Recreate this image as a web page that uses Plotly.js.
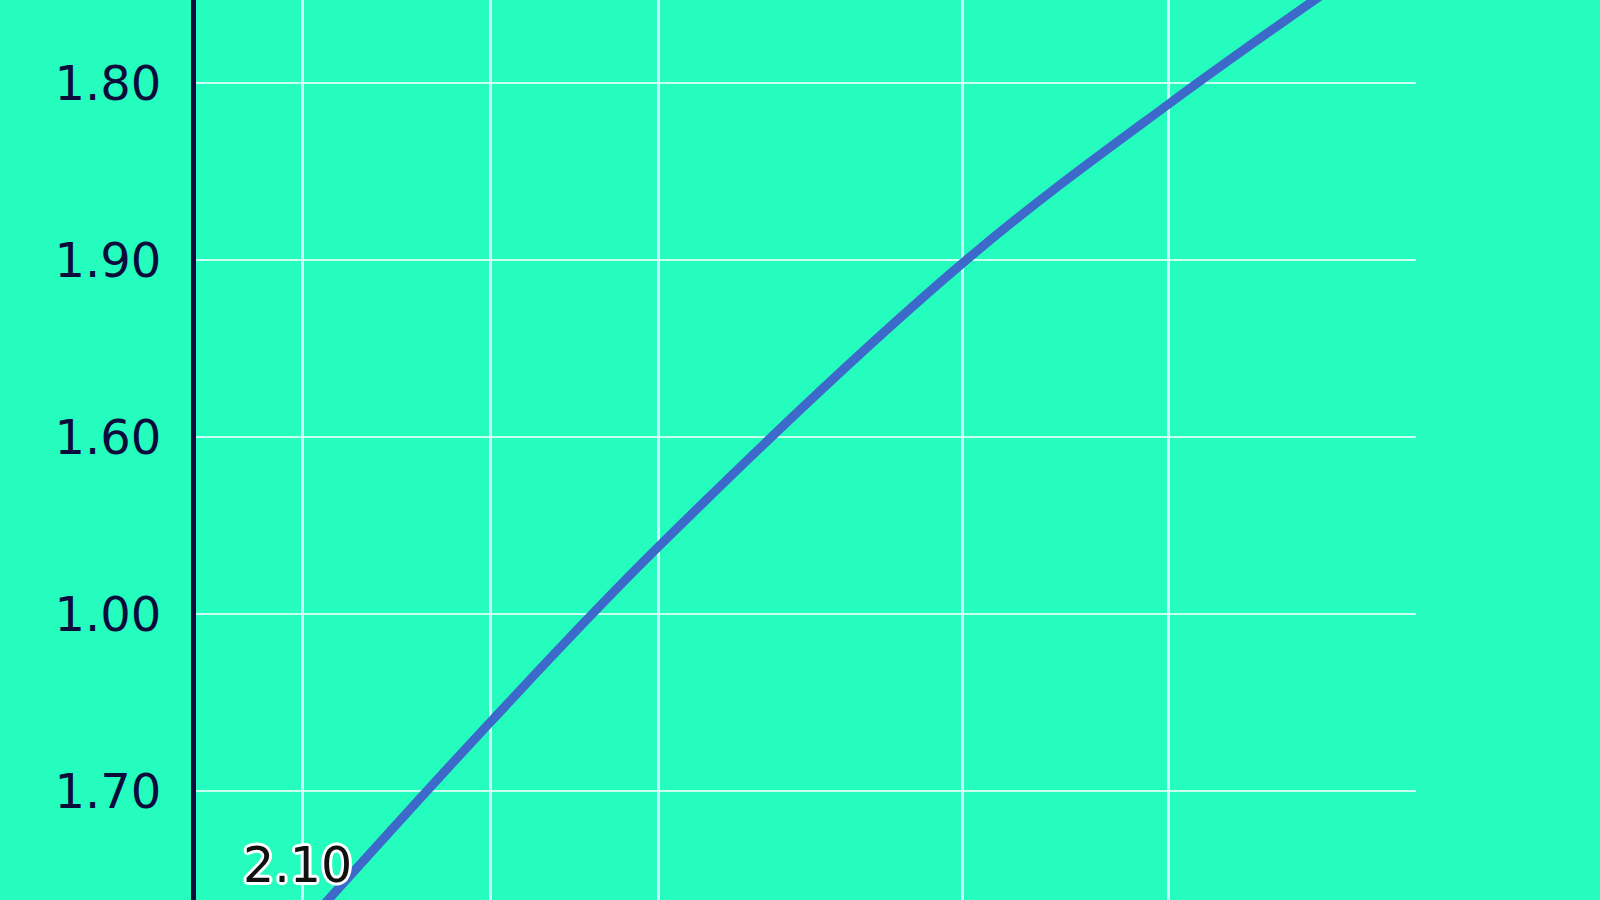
<!DOCTYPE html>
<html>
<head>
<meta charset="utf-8">
<script src="https://cdn.plot.ly/plotly-3.0.1.min.js"></script>
<style>
  html, body { margin: 0; padding: 0; overflow: hidden; background: #24fdbd; }
  #chart { width: 1600px; height: 1000px; }
</style>
</head>
<body>
<div id="chart"></div>
<script>
// x positions of the points (same as the vertical grid lines)
const xValues = [8.76, 24.14, 37.89, 62.85, 79.71, 99.92];
// y values on the index scale used by the tick labels
const yValues = [-0.774, 0.390, 1.379, 2.983, 3.880, 4.864];
// y tick positions and their (odd) labels, bottom to top
const yTickVals = [0, 1, 2, 3, 4];
const yTickText = ["1.70", "1.00", "1.60", "1.90", "1.80"];
const firstLabel = "2.10";

const bg = "#24fdbd";
const ink = "#0c0c3c";
const grid = "rgba(230,255,248,0.85)";

var data = [{
  x: xValues,
  y: yValues,
  type: "scatter",
  mode: "lines",
  line: { color: "#3d69cb", width: 9, shape: "spline", smoothing: 1 },
  hoverinfo: "skip",
}];

var layout = {
  width: 1600,
  height: 1000,
  margin: { t: 0, b: 0, l: 196, r: 184 },
  paper_bgcolor: bg,
  plot_bgcolor: bg,
  showlegend: false,
  font: { family: "DejaVu Sans", color: ink },
  xaxis: {
    range: [0, 100],
    tickmode: "array",
    tickvals: xValues,
    showticklabels: false,
    ticks: "",
    showgrid: true,
    gridcolor: grid,
    gridwidth: 2.8,
    zeroline: false,
    showline: false,
  },
  yaxis: {
    range: [-1.181, 4.469],
    tickmode: "array",
    tickvals: yTickVals,
    ticktext: yTickText,
    ticks: "",
    ticklabelstandoff: 20,
    tickfont: { size: 48, color: ink },
    showgrid: true,
    gridcolor: grid,
    gridwidth: 2.8,
    zeroline: false,
    showline: true,
    linecolor: ink,
    linewidth: 5,
  },
  annotations: [{
    x: xValues[0],
    y: yValues[0],
    text: firstLabel,
    showarrow: false,
    xanchor: "center",
    yanchor: "middle",
    xshift: -5,
    yshift: 62,
    font: {
      size: 49,
      color: "#111111",
      shadow: "2px 2px 0 #fff, -2px -2px 0 #fff, 2px -2px 0 #fff, -2px 2px 0 #fff, 0 3px 0 #fff, 0 -3px 0 #fff, 3px 0 0 #fff, -3px 0 0 #fff",
    },
  }],
};

var config = { responsive: false, displayModeBar: false, staticPlot: true };

Plotly.newPlot("chart", data, layout, config);
</script>
</body>
</html>
